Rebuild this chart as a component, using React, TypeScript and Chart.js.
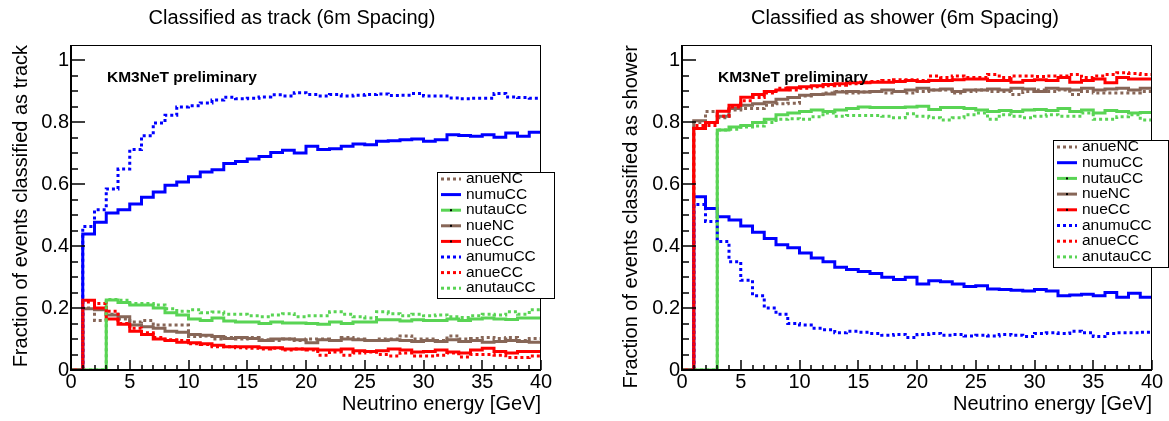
import React, { useEffect, useRef } from "react";
import { Chart, registerables } from "chart.js";

Chart.register(...registerables);

// ---------------- DATA ----------------
const energyBinEdges = [
  0, 1, 2, 3, 4, 5, 6, 7, 8, 9, 10, 11, 12, 13, 14, 15, 16, 17, 18, 19, 20,
  21, 22, 23, 24, 25, 26, 27, 28, 29, 30, 31, 32, 33, 34, 35, 36, 37, 38, 39, 40,
];

const seriesNames = ["anueNC", "numuCC", "nutauCC", "nueNC", "nueCC", "anumuCC", "anueCC", "anutauCC"];

// Classified as track: fraction per 1 GeV bin (bin 0 = 0-1 GeV ... bin 39 = 39-40 GeV)
const trackAnueNC = [0, 0.2, 0.16, 0.18, 0.165, 0.155, 0.16, 0.145, 0.145, 0.145, 0.108, 0.11, 0.1, 0.105, 0.1, 0.105, 0.098, 0.095, 0.1, 0.095, 0.1, 0.1, 0.095, 0.105, 0.1, 0.095, 0.1, 0.1, 0.11, 0.1, 0.1, 0.095, 0.11, 0.1, 0.102, 0.105, 0.102, 0.105, 0.095, 0.102];
const trackNumuCC = [0, 0.439, 0.477, 0.507, 0.518, 0.536, 0.558, 0.575, 0.597, 0.607, 0.624, 0.64, 0.647, 0.667, 0.674, 0.682, 0.69, 0.703, 0.71, 0.701, 0.723, 0.712, 0.715, 0.723, 0.73, 0.728, 0.739, 0.741, 0.744, 0.746, 0.739, 0.744, 0.76, 0.758, 0.755, 0.76, 0.752, 0.766, 0.755, 0.768];
const trackNutauCC = [0, 0, 0, 0.226, 0.218, 0.21, 0.21, 0.2, 0.185, 0.178, 0.165, 0.16, 0.168, 0.158, 0.155, 0.155, 0.15, 0.155, 0.152, 0.152, 0.15, 0.148, 0.155, 0.15, 0.155, 0.155, 0.162, 0.162, 0.158, 0.162, 0.16, 0.16, 0.165, 0.16, 0.165, 0.168, 0.165, 0.163, 0.168, 0.168];
const trackNueNC = [0, 0.198, 0.195, 0.178, 0.172, 0.145, 0.14, 0.135, 0.125, 0.122, 0.115, 0.112, 0.108, 0.102, 0.105, 0.102, 0.095, 0.1, 0.1, 0.098, 0.088, 0.098, 0.095, 0.1, 0.098, 0.095, 0.095, 0.098, 0.095, 0.092, 0.095, 0.092, 0.098, 0.092, 0.095, 0.09, 0.092, 0.095, 0.092, 0.09];
const trackNueCC = [0, 0.225, 0.2, 0.165, 0.148, 0.125, 0.115, 0.1, 0.095, 0.09, 0.088, 0.085, 0.08, 0.075, 0.075, 0.075, 0.072, 0.072, 0.068, 0.068, 0.068, 0.065, 0.065, 0.068, 0.062, 0.06, 0.062, 0.068, 0.065, 0.058, 0.06, 0.065, 0.058, 0.055, 0.065, 0.07, 0.06, 0.055, 0.06, 0.06];
const trackAnumuCC = [0, 0.464, 0.518, 0.585, 0.649, 0.712, 0.757, 0.798, 0.823, 0.85, 0.854, 0.863, 0.872, 0.881, 0.876, 0.878, 0.882, 0.889, 0.885, 0.896, 0.89, 0.885, 0.89, 0.885, 0.888, 0.89, 0.892, 0.887, 0.888, 0.893, 0.885, 0.885, 0.879, 0.876, 0.878, 0.878, 0.893, 0.882, 0.88, 0.878];
const trackAnueCC = [0, 0.22, 0.215, 0.19, 0.15, 0.135, 0.12, 0.105, 0.098, 0.095, 0.085, 0.082, 0.075, 0.075, 0.072, 0.07, 0.068, 0.07, 0.065, 0.068, 0.065, 0.048, 0.058, 0.048, 0.055, 0.058, 0.05, 0.045, 0.055, 0.045, 0.045, 0.048, 0.055, 0.042, 0.05, 0.05, 0.048, 0.04, 0.04, 0.045];
const trackAnutauCC = [0, 0, 0, 0.228, 0.225, 0.215, 0.215, 0.21, 0.198, 0.19, 0.195, 0.185, 0.187, 0.18, 0.18, 0.175, 0.172, 0.178, 0.182, 0.172, 0.175, 0.175, 0.188, 0.18, 0.172, 0.168, 0.188, 0.182, 0.175, 0.18, 0.175, 0.178, 0.172, 0.17, 0.175, 0.18, 0.178, 0.188, 0.18, 0.195];

// Classified as shower
const showerAnueNC = [0, 0.8, 0.835, 0.815, 0.84, 0.845, 0.845, 0.855, 0.86, 0.862, 0.885, 0.89, 0.895, 0.9, 0.895, 0.898, 0.9, 0.895, 0.9, 0.895, 0.9, 0.905, 0.905, 0.895, 0.9, 0.905, 0.9, 0.9, 0.89, 0.9, 0.905, 0.9, 0.905, 0.89, 0.9, 0.895, 0.895, 0.895, 0.895, 0.9];
const showerNumuCC = [0, 0.56, 0.522, 0.495, 0.485, 0.465, 0.445, 0.425, 0.405, 0.395, 0.378, 0.362, 0.35, 0.332, 0.325, 0.318, 0.312, 0.3, 0.292, 0.3, 0.278, 0.288, 0.285, 0.278, 0.27, 0.272, 0.262, 0.26, 0.258, 0.255, 0.26, 0.255, 0.24, 0.242, 0.245, 0.24, 0.25, 0.235, 0.248, 0.235];
const showerNutauCC = [0, 0, 0, 0.775, 0.785, 0.79, 0.8, 0.81, 0.825, 0.83, 0.835, 0.84, 0.835, 0.84, 0.845, 0.85, 0.848, 0.848, 0.848, 0.85, 0.852, 0.842, 0.848, 0.848, 0.845, 0.84, 0.835, 0.838, 0.835, 0.84, 0.842, 0.838, 0.845, 0.835, 0.84, 0.83, 0.838, 0.835, 0.83, 0.832];
const showerNueNC = [0, 0.805, 0.8, 0.82, 0.845, 0.855, 0.86, 0.865, 0.875, 0.88, 0.888, 0.89, 0.892, 0.898, 0.9, 0.898, 0.9, 0.905, 0.9, 0.905, 0.91, 0.905, 0.908, 0.9, 0.905, 0.905, 0.908, 0.905, 0.91, 0.908, 0.9, 0.91, 0.908, 0.905, 0.91, 0.905, 0.908, 0.91, 0.905, 0.91];
const showerNueCC = [0, 0.78, 0.8, 0.836, 0.855, 0.881, 0.89, 0.9, 0.905, 0.912, 0.915, 0.918, 0.922, 0.925, 0.928, 0.928, 0.93, 0.93, 0.932, 0.935, 0.932, 0.935, 0.935, 0.938, 0.94, 0.94, 0.935, 0.935, 0.93, 0.935, 0.938, 0.935, 0.945, 0.93, 0.935, 0.94, 0.928, 0.945, 0.94, 0.94];
const showerAnumuCC = [0, 0.535, 0.48, 0.415, 0.35, 0.29, 0.24, 0.2, 0.18, 0.15, 0.145, 0.135, 0.13, 0.12, 0.125, 0.122, 0.118, 0.112, 0.115, 0.105, 0.115, 0.118, 0.112, 0.115, 0.11, 0.112, 0.11, 0.115, 0.112, 0.108, 0.118, 0.12, 0.118, 0.125, 0.12, 0.108, 0.118, 0.12, 0.12, 0.122];
const showerAnueCC = [0, 0.79, 0.79, 0.82, 0.85, 0.87, 0.88, 0.895, 0.91, 0.905, 0.91, 0.915, 0.918, 0.92, 0.925, 0.93, 0.932, 0.935, 0.938, 0.938, 0.935, 0.95, 0.945, 0.95, 0.945, 0.945, 0.955, 0.945, 0.95, 0.95, 0.948, 0.95, 0.95, 0.955, 0.945, 0.95, 0.955, 0.96, 0.958, 0.955];
const showerAnutauCC = [0, 0, 0, 0.775, 0.778, 0.785, 0.788, 0.8, 0.81, 0.812, 0.81, 0.818, 0.83, 0.82, 0.822, 0.822, 0.822, 0.82, 0.815, 0.828, 0.82, 0.815, 0.808, 0.815, 0.825, 0.83, 0.81, 0.825, 0.82, 0.815, 0.82, 0.825, 0.82, 0.82, 0.83, 0.81, 0.81, 0.818, 0.825, 0.808];

const xTickValues = [0, 5, 10, 15, 20, 25, 30, 35, 40];
const xTickLabels = ["0", "5", "10", "15", "20", "25", "30", "35", "40"];
const yTickValues = [0, 0.2, 0.4, 0.6, 0.8, 1];
const yTickLabels = ["0", "0.2", "0.4", "0.6", "0.8", "1"];

// ---------------- STYLE ----------------
const FONT = "'Liberation Sans', Arial, Helvetica, sans-serif";
const BLUE = "#0000ff";
const RED = "#ff0000";
const GREEN = "#59d454";
const BROWN = "#876657";

const seriesStyles = [
  { color: BROWN, dash: true, marker: false },
  { color: BLUE, dash: false, marker: false },
  { color: GREEN, dash: false, marker: true },
  { color: BROWN, dash: false, marker: true },
  { color: RED, dash: false, marker: true },
  { color: BLUE, dash: true, marker: false },
  { color: RED, dash: true, marker: false },
  { color: GREEN, dash: true, marker: false },
];
const DASH = [3, 3];

type LegendGeom = { x: number; y: number; w: number; h: number; row0: number; rowStep: number };
type PanelCfg = {
  width: number;
  offsetX: number;
  title: string;
  titleX: number;
  yTitle: string;
  yTitlePad: number;
  axisWidth: number;
  rightPad: number;
  legend: LegendGeom;
  series: number[][];
};

const trackPanel: PanelCfg = {
  width: 584,
  offsetX: 0,
  title: "Classified as track (6m Spacing)",
  titleX: 292,
  yTitle: "Fraction of events classified as track",
  yTitlePad: 9,
  axisWidth: 71,
  rightPad: 43,
  legend: { x: 437, y: 172, w: 117, h: 126, row0: 7, rowStep: 15.6 },
  series: [trackAnueNC, trackNumuCC, trackNutauCC, trackNueNC, trackNueCC, trackAnumuCC, trackAnueCC, trackAnutauCC],
};

const showerPanel: PanelCfg = {
  width: 585,
  offsetX: 584,
  title: "Classified as shower (6m Spacing)",
  titleX: 321,
  yTitle: "Fraction of events classified as shower",
  yTitlePad: 35,
  axisWidth: 98,
  rightPad: 17,
  legend: { x: 469, y: 140, w: 115, h: 127, row0: 7, rowStep: 15.7 },
  series: [showerAnueNC, showerNumuCC, showerNutauCC, showerNueNC, showerNueCC, showerAnumuCC, showerAnueCC, showerAnutauCC],
};

function toSteps(values: number[]) {
  const pts = values.map((v, i) => ({ x: energyBinEdges[i], y: v }));
  pts.push({ x: energyBinEdges[values.length], y: values[values.length - 1] });
  return pts;
}

function makeRootPlugin(cfg: PanelCfg) {
  return {
    id: "rootStyle",
    afterDatasetsDraw(chart: any) {
      const { ctx, chartArea: a, scales } = chart;
      const xs = scales.x;
      const ys = scales.y;
      ctx.save();
      ctx.fillStyle = "#000";
      // frame
      ctx.fillRect(a.left - 1, a.top, 2, a.bottom - a.top);
      ctx.fillRect(a.left - 1, a.bottom - 1, a.right - a.left + 1, 2);
      ctx.fillRect(a.left, a.top, a.right - a.left, 1);
      ctx.fillRect(a.right - 1, a.top, 1, a.bottom - a.top);
      // y ticks (inside)
      ctx.strokeStyle = "#000";
      ctx.lineWidth = 1.5;
      for (let k = 0; k <= 20; k++) {
        const py = Math.round(ys.getPixelForValue(k * 0.05));
        const len = k % 4 === 0 ? 14 : 7;
        ctx.beginPath();
        ctx.moveTo(a.left, py);
        ctx.lineTo(a.left + len, py);
        ctx.stroke();
      }
      // x ticks (inside)
      for (let e = 0; e <= 40; e++) {
        const px = Math.round(xs.getPixelForValue(e));
        const len = e % 5 === 0 ? 10 : 5;
        ctx.beginPath();
        ctx.moveTo(px, a.bottom);
        ctx.lineTo(px, a.bottom - len);
        ctx.stroke();
      }
      ctx.restore();
    },
    afterDraw(chart: any) {
      const { ctx, chartArea: a } = chart;
      ctx.save();
      // title
      ctx.fillStyle = "#000";
      ctx.font = `20px ${FONT}`;
      ctx.textAlign = "center";
      ctx.textBaseline = "middle";
      ctx.fillText(cfg.title, cfg.titleX, 18);
      // watermark
      ctx.font = `bold 15.5px ${FONT}`;
      ctx.textAlign = "left";
      ctx.fillText("KM3NeT preliminary", a.left + 36, 78);
      // legend
      const L = cfg.legend;
      ctx.fillStyle = "#fff";
      ctx.fillRect(L.x, L.y, L.w, L.h);
      ctx.strokeStyle = "#000";
      ctx.lineWidth = 1;
      ctx.setLineDash([]);
      ctx.strokeRect(L.x + 0.5, L.y + 0.5, L.w, L.h);
      seriesNames.forEach((name, i) => {
        const st = seriesStyles[i];
        const cy = L.y + L.row0 + i * L.rowStep;
        ctx.strokeStyle = st.color;
        ctx.lineWidth = 3;
        ctx.setLineDash(st.dash ? DASH : []);
        ctx.beginPath();
        ctx.moveTo(L.x + 4, cy);
        ctx.lineTo(L.x + 24, cy);
        ctx.stroke();
        ctx.setLineDash([]);
        if (st.marker) {
          ctx.fillStyle = "#000";
          ctx.fillRect(L.x + 13, cy - 1, 2, 2);
        }
        ctx.fillStyle = "#000";
        ctx.font = `15.5px ${FONT}`;
        ctx.textAlign = "left";
        ctx.textBaseline = "middle";
        ctx.fillText(name, L.x + 29, cy);
      });
      ctx.restore();
    },
  };
}

function buildConfig(cfg: PanelCfg): any {
  const datasets = seriesNames.map((name, i) => ({
    label: name,
    data: toSteps(cfg.series[i]),
    borderColor: seriesStyles[i].color,
    backgroundColor: seriesStyles[i].color,
    borderWidth: 3,
    borderDash: seriesStyles[i].dash ? DASH : [],
    borderCapStyle: "butt",
    borderJoinStyle: "miter",
    pointRadius: 0,
    stepped: "before",
    fill: false,
    tension: 0,
    order: seriesNames.length - 1 - i,
  }));
  const tickFont = { family: FONT, size: 20 };
  return {
    type: "line",
    data: { datasets },
    options: {
      animation: false,
      responsive: false,
      devicePixelRatio: 1,
      events: [],
      layout: { padding: { left: 0, right: cfg.rightPad, top: 45, bottom: 0 } },
      plugins: {
        legend: { display: false },
        tooltip: { enabled: false },
        title: { display: false },
      },
      scales: {
        x: {
          type: "linear",
          min: 0,
          max: 40,
          grid: { display: false, drawTicks: false },
          border: { display: false },
          afterBuildTicks: (s: any) => {
            s.ticks = xTickValues.map((v) => ({ value: v }));
          },
          afterFit: (s: any) => {
            s.height = 51;
          },
          ticks: {
            color: "#000",
            font: tickFont,
            padding: 0,
            maxRotation: 0,
            autoSkip: false,
            callback: (_v: any, i: number) => xTickLabels[i],
          },
          title: {
            display: true,
            text: "Neutrino energy [GeV]",
            align: "end",
            color: "#000",
            font: { family: FONT, size: 20 },
            padding: { top: 0, bottom: 5 },
          },
        },
        y: {
          type: "linear",
          min: 0,
          max: 1.05,
          grid: { display: false, drawTicks: false },
          border: { display: false },
          afterBuildTicks: (s: any) => {
            s.ticks = yTickValues.map((v) => ({ value: v }));
          },
          afterFit: (s: any) => {
            s.width = cfg.axisWidth;
          },
          ticks: {
            color: "#000",
            font: tickFont,
            padding: 2,
            autoSkip: false,
            callback: (_v: any, i: number) => yTickLabels[i],
          },
          title: {
            display: true,
            text: cfg.yTitle,
            align: "end",
            color: "#000",
            font: { family: FONT, size: 20 },
            padding: { top: cfg.yTitlePad, bottom: 0 },
          },
        },
      },
    },
    plugins: [makeRootPlugin(cfg)],
  };
}

function Panel({ cfg }: { cfg: PanelCfg }) {
  const ref = useRef<HTMLCanvasElement | null>(null);
  useEffect(() => {
    const canvas = ref.current;
    if (!canvas) return;
    const chart = new Chart(canvas, buildConfig(cfg));
    return () => chart.destroy();
  }, [cfg]);
  return (
    <canvas
      ref={ref}
      width={cfg.width}
      height={421}
      style={{ position: "absolute", left: cfg.offsetX, top: 0, width: cfg.width, height: 421, display: "block" }}
    />
  );
}

export default function App() {
  useEffect(() => {
    document.body.style.margin = "0";
  }, []);
  return (
    <div style={{ position: "absolute", left: 0, top: 0, width: 1169, height: 421, background: "#fff", overflow: "hidden" }}>
      <Panel cfg={trackPanel} />
      <Panel cfg={showerPanel} />
    </div>
  );
}
